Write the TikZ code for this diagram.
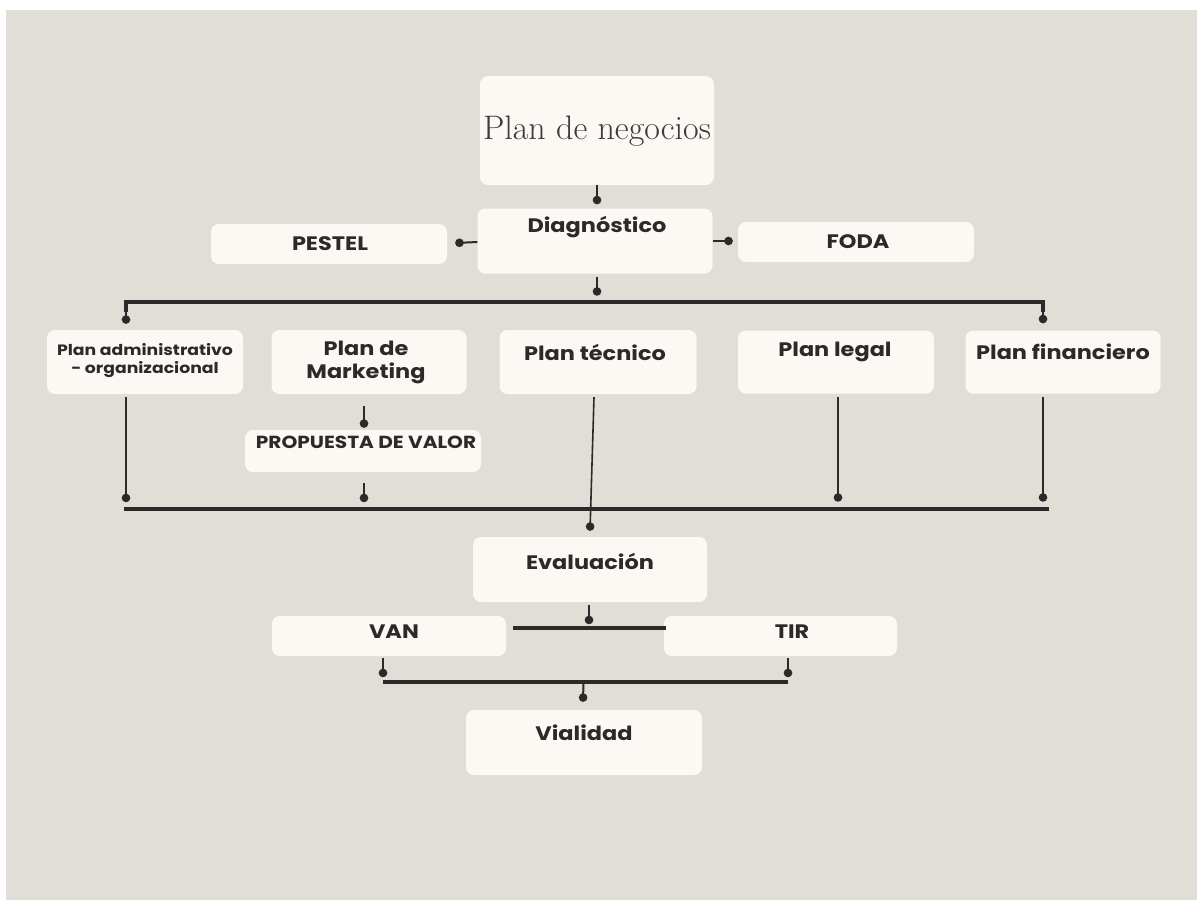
\documentclass[tikz,border=0pt]{standalone}
\usepackage{fontspec}
\newfontfamily\sansb[FakeStretch=1.15]{Poppins}
\usetikzlibrary{arrows.meta,calc}
\definecolor{bgc}{HTML}{E1DDD7}
\definecolor{boxc}{HTML}{FCF8F3}
\definecolor{inkc}{HTML}{2A2A2A}
\tikzset{
  boxn/.style={fill=boxc,draw=none,rounded corners=8pt,inner sep=0pt},
  lbl/.style={text=inkc,font=\sansb\bfseries\fontsize{19.5}{23}\selectfont,align=center,inner sep=0pt},
  conn/.style={draw=inkc,line width=2pt},
  bus/.style={draw=inkc,line width=3.2pt},
  dot/.style={-{Circle[length=8.5pt,width=8.5pt]}},
}
\begin{document}
\begin{tikzpicture}[x=1pt,y=-1pt]
\useasboundingbox (0,0) rectangle (1197,900);
\fill[white] (0,0) rectangle (1197,900);
\fill[bgc] (6,10) rectangle (1197,900);

% boxes
\node[boxn,minimum width=234pt,minimum height=109pt] (plan) at (597,130.5) {};
\node[text=inkc!92,font=\fontsize{34}{38}\selectfont,inner sep=0pt] (plant) at (597,131) {Plan de negocios};

\node[boxn,minimum width=235pt,minimum height=65pt] (diag) at (595,241) {};
\node[lbl] (diagt) at (597,227) {Diagnóstico};

\node[boxn,minimum width=236pt,minimum height=40pt] (pestel) at (329,244) {};
\node[lbl] (pestelt) at (330,244) {PESTEL};

\node[boxn,minimum width=236pt,minimum height=40pt] (foda) at (856,242) {};
\node[lbl] (fodat) at (858,242) {FODA};

\node[boxn,minimum width=196pt,minimum height=64pt] (adm) at (145,362) {};
\node[lbl,font=\sansb\bfseries\fontsize{15}{18}\selectfont] (admt) at (145,361) {Plan administrativo\\- organizacional};

\node[boxn,minimum width=195pt,minimum height=64pt] (mkt) at (369,362) {};
\node[lbl] (mktt) at (366,362) {Plan de\\Marketing};

\node[boxn,minimum width=197pt,minimum height=64pt] (tec) at (598,362) {};
\node[lbl] (tect) at (595,352) {Plan técnico};

\node[boxn,minimum width=196pt,minimum height=63pt] (leg) at (836,362) {};
\node[lbl] (legt) at (835,352) {Plan legal};

\node[boxn,minimum width=195pt,minimum height=63pt] (fin) at (1063,362) {};
\node[lbl] (fint) at (1063,352) {Plan financiero};

\node[boxn,minimum width=236pt,minimum height=42pt] (prop) at (363,451) {};
\node[lbl,font=\sansb\bfseries\fontsize{17.5}{20}\selectfont] (propt) at (366,442) {PROPUESTA DE VALOR};

\node[boxn,minimum width=234pt,minimum height=65pt] (eva) at (590,569.5) {};
\node[lbl] (evat) at (590,561) {Evaluación};

\node[boxn,minimum width=234pt,minimum height=40pt] (van) at (389,636) {};
\node[lbl] (vant) at (394,632) {VAN};

\node[boxn,minimum width=233pt,minimum height=40pt] (tir) at (780.5,636) {};
\node[lbl] (tirt) at (792,632) {TIR};

\node[boxn,minimum width=236pt,minimum height=65pt] (via) at (584,742.5) {};
\node[lbl] (viat) at (584,733) {Vialidad};

% coordinates
\coordinate (busL) at (126,302);
\coordinate (busR) at (1043,302);
\coordinate (bL) at (124,509);
\coordinate (bR) at (1049,509);
\coordinate (evL) at (513,628);
\coordinate (evR) at (666,628);
\coordinate (vbL) at (383,682);
\coordinate (vbR) at (788,682);

% connectors
\draw[conn,dot] (plan.south) -- ($(diag.north)+(2,-4)$);
\draw[conn,dot] ($(diag.west)+(0,1)$) -- ($(pestel.east)+(8,-1)$);
\draw[conn,dot] ($(diag.east)+(0,0)$) -- ($(foda.west)+(-5,-1)$);
\draw[conn,dot] ($(diag.south)+(2,3)$) -- ($(diag.south)+(2,22)$);
\draw[bus] ($(busL)+(0,10)$) -- (busL) -- (busR) -- ($(busR)+(0,10)$);
\draw[conn,dot] ($(busL)+(0,8)$) -- ($(adm.north)+(-19,-6)$);
\draw[conn,dot] ($(busR)+(0,8)$) -- ($(fin.north)+(-20,-7)$);

\draw[bus] (bL) -- (bR);
\draw[conn,dot] ($(adm.south)+(-19,3)$) -- ($(adm.south)+(-19,108)$);
\draw[conn,dot] ($(mkt.south)+(-5,12)$) -- ($(prop.north)+(1,-2)$);
\draw[conn,dot] ($(prop.south)+(1,11)$) -- ($(prop.south)+(1,30)$);
\draw[conn,dot] ($(leg.south)+(2,3)$) -- ($(leg.south)+(2,108)$);
\draw[conn,dot] ($(fin.south)+(-20,3)$) -- ($(fin.south)+(-20,108)$);
\draw[conn,dot,line width=1.6pt] ($(tec.south)+(-4,3)$) -- ($(eva.north)+(0,-6)$);

\draw[bus] (evL) -- (evR);
\draw[conn,dot] ($(eva.south)+(-1,3)$) -- ($(eva.south)+(-1,22)$);

\draw[bus] (vbL) -- (vbR);
\draw[conn,dot] ($(van.south)+(-6,2)$) -- ($(van.south)+(-6,21)$);
\draw[conn,dot] ($(tir.south)+(7.5,2)$) -- ($(tir.south)+(7.5,21)$);
\draw[conn,dot] ($(vbL)!0.495!(vbR)$) -- ($(via.north)+(-1,-8)$);
\end{tikzpicture}
\end{document}
